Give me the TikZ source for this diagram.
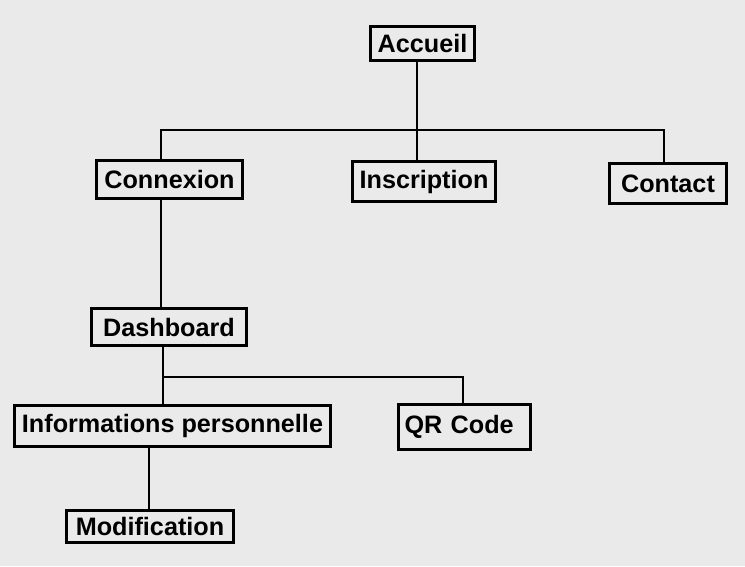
\documentclass[tikz,border=0pt]{standalone}
\usepackage{fontspec}
\setmainfont{Liberation Sans}
\usepackage{xcolor}
\definecolor{paperbg}{RGB}{234,234,234}

\tikzset{
    pagebox/.style={draw=black, line width=2.6pt, inner sep=0pt,
        font=\fontsize{25.2}{29}\selectfont\bfseries},
    link/.style={draw=black, line width=2.6pt}
}

\begin{document}
\begin{tikzpicture}[x=1pt,y=-1pt]
            % Background
            \fill[paperbg] (0,0) rectangle (745,566);
            \useasboundingbox (0,0) rectangle (745,566);

            % Level 1
            \node[pagebox, minimum width=104.5pt, minimum height=34.5pt] (accueil) at (422.5,43.5) {Accueil};

            % Level 2
            \node[pagebox, minimum width=146.5pt, minimum height=38.5pt] (connexion) at (169.5,179.5) {Connexion};
            \node[pagebox, minimum width=143.5pt, minimum height=40.5pt] (inscription) at (424,181.5) {Inscription};
            \node[pagebox, minimum width=117.5pt, minimum height=40.5pt] (contact) at (668,183.5) {Contact};

            % Level 3
            \node[pagebox, minimum width=155.5pt, minimum height=37.5pt] (dashboard) at (169,327) {Dashboard};

            % Level 4
            \node[pagebox, minimum width=316.5pt, minimum height=41.5pt] (infos) at (172.5,426) {Informations personnelle};
            \node[pagebox, minimum width=132.5pt, minimum height=45.5pt, text width=120pt, align=left] (qrcode) at (464.5,427) {QR Code};

            % Level 5
            \node[pagebox, minimum width=167.5pt, minimum height=32.5pt] (modification) at (150,526.5) {Modification};

            % Junctions
            \coordinate (busleft) at (161,130);
            \coordinate (busmid) at (417,130);
            \coordinate (busright) at (664,130);
            \coordinate (dashdown) at (163,377);
            \coordinate (qrjoint) at (463,377);
            \coordinate (infodown) at (149,450);

            % Links from Accueil
            \draw[link] (accueil.south -| busmid) -- (inscription.north -| busmid);
            \draw[link] (connexion.north -| busleft) -- (busleft) -- (busright) -- (contact.north -| busright);

            % Links from Connexion and Dashboard
            \draw[link] (connexion.south -| busleft) -- (dashboard.north -| busleft);
            \draw[link] (dashboard.south -| dashdown) -- (infos.north -| dashdown);
            \draw[link] (dashdown) -- (qrjoint) -- (qrcode.north -| qrjoint);

            % Link to Modification
            \draw[link] (infos.south -| infodown) -- (modification.north -| infodown);
        \end{tikzpicture}
\end{document}
